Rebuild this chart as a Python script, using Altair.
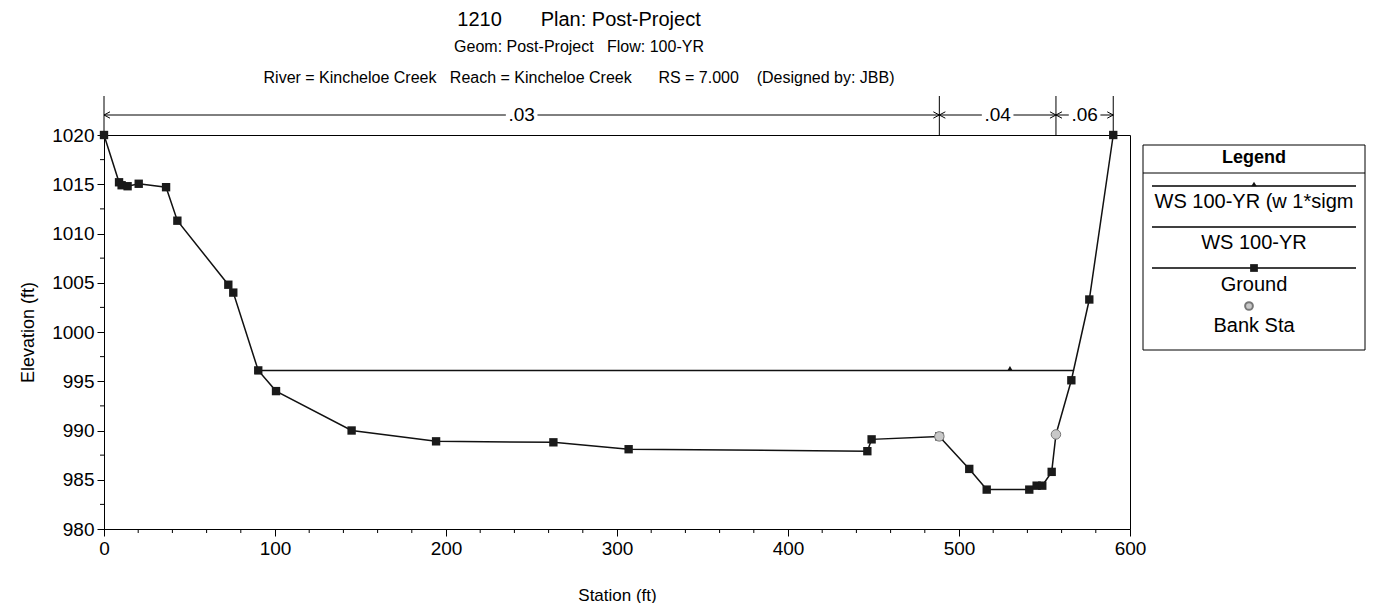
import altair as alt
import pandas as pd

# ---------------- data ----------------
ground_station = [0, 8.8, 10.3, 13.8, 20.3, 36.3, 42.9, 72.7, 75.6, 90.2, 100.6, 144.8,
                  194.2, 262.8, 306.8, 446.4, 448.9, 488.5, 506.0, 516.2, 541.1, 545.4,
                  548.7, 554.2, 556.7, 565.7, 576.2, 590.2]
ground_elev = [1020.0, 1015.2, 1014.9, 1014.8, 1015.05, 1014.7, 1011.3, 1004.8, 1004.0, 996.1,
               994.0, 990.0, 988.9, 988.8, 988.1, 987.9, 989.1, 989.4, 986.1, 984.0, 984.0,
               984.4, 984.4, 985.8, 989.6, 995.1, 1003.3, 1020.0]
square_station = [s for s in ground_station if s != 556.7]
square_elev = [e for s, e in zip(ground_station, ground_elev) if s != 556.7]

ws_station = [90.5, 567.3]
ws_elev = [996.1, 996.1]
sigma_station = [529.8]
sigma_elev = [996.1]

bank_station = [488.5, 556.7]
bank_elev = [989.4, 989.6]

n_values = [".03", ".04", ".06"]
n_start = [0, 488.5, 556.7]
n_end = [488.5, 556.7, 590.2]
n_bounds = [0, 488.5, 556.7, 590.2]

x_ticks = [0, 100, 200, 300, 400, 500, 600]
x_minor = [v for v in range(20, 600, 20) if v % 100 != 0]
y_ticks = [980, 985, 990, 995, 1000, 1005, 1010, 1015, 1020]
y_minor = [982.5, 987.5, 992.5, 997.5, 1002.5, 1007.5, 1012.5, 1017.5]

title_lines = ["1210\u00a0\u00a0\u00a0\u00a0\u00a0\u00a0\u00a0Plan: Post-Project",
               "Geom: Post-Project\u00a0\u00a0\u00a0Flow: 100-YR",
               "River = Kincheloe Creek\u00a0\u00a0\u00a0Reach = Kincheloe Creek\u00a0\u00a0\u00a0\u00a0\u00a0\u00a0RS = 7.000\u00a0\u00a0\u00a0\u00a0(Designed by: JBB)"]
legend_title = "Legend"
legend_labels = ["WS 100-YR (w 1*sigm", "WS 100-YR", "Ground", "Bank Sta"]

FONT = "Liberation Sans"
W, H = 1026, 394

xs = alt.Scale(domain=[0, 600], nice=False, zero=False)
ys = alt.Scale(domain=[980, 1020], nice=False, zero=False)

ground_df = pd.DataFrame({"station": ground_station, "elev": ground_elev})
square_df = pd.DataFrame({"station": square_station, "elev": square_elev})
ws_df = pd.DataFrame({"station": ws_station, "elev": ws_elev})
sig_df = pd.DataFrame({"station": sigma_station, "elev": sigma_elev})
bank_df = pd.DataFrame({"station": bank_station, "elev": bank_elev})
n_df = pd.DataFrame({"label": n_values, "start": n_start, "end": n_end})
nb_df = pd.DataFrame({"station": n_bounds})
xm_df = pd.DataFrame({"station": x_minor})
ym_df = pd.DataFrame({"elev": y_minor})
one = pd.DataFrame({"k": [0]})

X = lambda f: alt.X(f, type="quantitative", scale=xs)
Y = lambda f: alt.Y(f, type="quantitative", scale=ys)

# main axes carrier (ground line)
ground_line = alt.Chart(ground_df).mark_line(color="#111", strokeWidth=1.5).encode(
    x=alt.X("station:Q", scale=xs,
            axis=alt.Axis(values=x_ticks, format="d", title="Station (ft)", grid=False,
                          labelFlush=False, labelPadding=3, titlePadding=29, titleFontSize=17)),
    y=alt.Y("elev:Q", scale=ys,
            axis=alt.Axis(values=y_ticks, format="d", title="Elevation (ft)", grid=False,
                          labelPadding=3, titlePadding=14, titleFontSize=18)),
)
ground_pts = alt.Chart(square_df).mark_point(shape="square", filled=True, color="#1a1a1a",
                                             size=70, opacity=1).encode(x=X("station"), y=Y("elev"))

ws_line = alt.Chart(ws_df).mark_line(color="#111", strokeWidth=1.5).encode(x=X("station"), y=Y("elev"))
sig_pt = alt.Chart(sig_df).mark_point(shape="triangle-up", filled=True, color="#111",
                                      size=30, opacity=1, yOffset=-2).encode(x=X("station"), y=Y("elev"))
bank_pts = alt.Chart(bank_df).mark_point(shape="circle", filled=True, fill="#c8c8c8",
                                         stroke="#777", strokeWidth=1, size=90, opacity=1).encode(
    x=X("station"), y=Y("elev"))

# minor ticks
ym_ticks = alt.Chart(ym_df).mark_rule(color="black", strokeWidth=1).encode(
    y=Y("elev"), x=alt.value(-4), x2=alt.value(0))
xm_ticks = alt.Chart(xm_df).mark_rule(color="black", strokeWidth=1).encode(
    x=X("station"), y=alt.value(H), y2=alt.value(H + 4))

# roughness annotation
NY = -20
nb_rules = alt.Chart(nb_df).mark_rule(color="black", strokeWidth=1).encode(
    x=X("station"), y=alt.value(-39), y2=alt.value(0))
n_rules = alt.Chart(n_df).mark_rule(color="black", strokeWidth=1).encode(
    x=X("start"), x2=alt.X2("end"), y=alt.value(NY))
n_mid = alt.Chart(n_df).transform_calculate(mid="(datum.start + datum.end) / 2")
box_path = "M-1,-0.42L1,-0.42L1,0.42L-1,0.42Z"
n_box = n_mid.mark_point(shape=box_path, filled=True, color="white", opacity=1, size=1000).encode(
    x=X("mid:Q"), y=alt.value(NY))
n_text = n_mid.mark_text(font=FONT, fontSize=19, color="black", baseline="middle").encode(
    x=X("mid:Q"), y=alt.value(NY), text="label:N")
left_chev = "M1.5,-0.8L0,0L1.5,0.8"
right_chev = "M-1.5,-0.8L0,0L-1.5,0.8"
n_left = alt.Chart(n_df).mark_point(shape=left_chev, filled=False, color="black", size=64,
                                    strokeWidth=1, opacity=1).encode(x=X("start"), y=alt.value(NY))
n_right = alt.Chart(n_df).mark_point(shape=right_chev, filled=False, color="black", size=64,
                                     strokeWidth=1, opacity=1).encode(x=X("end"), y=alt.value(NY))

# titles
tcx = 475
t1 = alt.Chart(one).mark_text(font=FONT, fontSize=20, color="black", text=title_lines[0]).encode(
    x=alt.value(tcx), y=alt.value(-115))
t2 = alt.Chart(one).mark_text(font=FONT, fontSize=16, color="black", text=title_lines[1]).encode(
    x=alt.value(tcx), y=alt.value(-88))
t3 = alt.Chart(one).mark_text(font=FONT, fontSize=16, color="black", text=title_lines[2]).encode(
    x=alt.value(tcx), y=alt.value(-57))

# legend (drawn box)
LX0, LX1, LY0, LY1 = 1039, 1261, 10, 215
LCX = (LX0 + LX1) / 2
leg_layers = []
leg_layers.append(alt.Chart(one).mark_rect(fill="white", stroke="black", strokeWidth=1).encode(
    x=alt.value(LX0), x2=alt.value(LX1), y=alt.value(LY0), y2=alt.value(LY1)))
leg_layers.append(alt.Chart(one).mark_rule(color="black", strokeWidth=1).encode(
    x=alt.value(LX0), x2=alt.value(LX1), y=alt.value(38)))
leg_layers.append(alt.Chart(one).mark_text(font=FONT, fontSize=18, fontWeight="bold", color="black",
                                           text=legend_title).encode(x=alt.value(LCX), y=alt.value(23)))
for ly in [51, 92, 133]:
    leg_layers.append(alt.Chart(one).mark_rule(color="black", strokeWidth=1.3).encode(
        x=alt.value(LX0 + 9), x2=alt.value(LX1 - 9), y=alt.value(ly)))
leg_layers.append(alt.Chart(one).mark_point(shape="triangle-up", filled=True, color="#111", size=30,
                                            opacity=1).encode(x=alt.value(LCX), y=alt.value(49)))
leg_layers.append(alt.Chart(one).mark_point(shape="square", filled=True, color="#1a1a1a", size=60,
                                            opacity=1).encode(x=alt.value(LCX), y=alt.value(133)))
leg_layers.append(alt.Chart(one).mark_point(shape="circle", filled=True, fill="#c8c8c8", stroke="#777",
                                            size=60, opacity=1).encode(x=alt.value(LCX - 5), y=alt.value(171)))
for lab, ly in zip(legend_labels, [67, 108, 150, 191]):
    leg_layers.append(alt.Chart(one).mark_text(font=FONT, fontSize=20, color="black", text=lab,
                                               baseline="middle").encode(x=alt.value(LCX), y=alt.value(ly)))

chart = alt.layer(
    ground_line, ym_ticks, xm_ticks, nb_rules, n_rules, n_box, n_text, n_left, n_right,
    ws_line, sig_pt, ground_pts, bank_pts, t1, t2, t3, *leg_layers
).properties(
    width=W, height=H,
    autosize=alt.AutoSizeParams(type="none"),
    padding={"left": 96, "top": 127, "right": 244, "bottom": 74},
).configure_view(
    stroke="black", strokeWidth=1
).configure_axis(
    labelFont=FONT, labelFontSize=19, labelColor="black",
    titleFont=FONT, titleFontSize=19, titleFontWeight="normal", titleColor="black",
    domainColor="black", tickColor="black", tickSize=7, domainWidth=1, tickWidth=1,
).configure_text(baseline="middle")

chart.save("out.html", embed_options={"renderer": "svg", "actions": False})
